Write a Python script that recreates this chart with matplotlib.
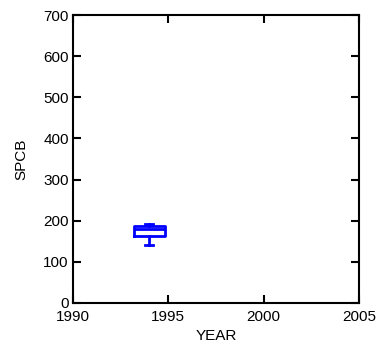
import matplotlib.pyplot as plt

plt.rcParams['font.family'] = ['Liberation Sans', 'DejaVu Sans']

# box summary for the single year with data
years = [1994]
whislo = [140]
q1 = [162]
med = [180]
q3 = [187]
whishi = [192]

stats = []
for i in range(len(years)):
    stats.append({'whislo': whislo[i], 'q1': q1[i], 'med': med[i],
                  'q3': q3[i], 'whishi': whishi[i], 'fliers': []})

fig = plt.figure(figsize=(3.82, 3.49), dpi=100)
ax = fig.add_axes([0.191, 0.132, 0.749, 0.825])

blue = '#0000ff'
ax.bxp(stats, positions=years, widths=1.6, showfliers=False,
       manage_ticks=False, capwidths=0.4,
       boxprops=dict(color=blue, linewidth=2),
       medianprops=dict(color=blue, linewidth=2),
       whiskerprops=dict(color=blue, linewidth=2),
       capprops=dict(color=blue, linewidth=2))

ax.set_xlim(1990, 2005)
ax.set_ylim(0, 700)
ax.set_xticks([1990, 1995, 2000, 2005])
ax.set_yticks(range(0, 701, 100))
ax.tick_params(direction='in', length=6, width=1.5, top=True, right=True,
               labelsize=11)
ax.tick_params(axis='x', pad=5)
ax.tick_params(axis='y', pad=3)
for s in ax.spines.values():
    s.set_linewidth(1.5)

ax.set_xlabel('YEAR', fontsize=11, labelpad=4)
ax.set_ylabel('SPCB', fontsize=11, labelpad=11)

fig.savefig('out.png', dpi=100)
